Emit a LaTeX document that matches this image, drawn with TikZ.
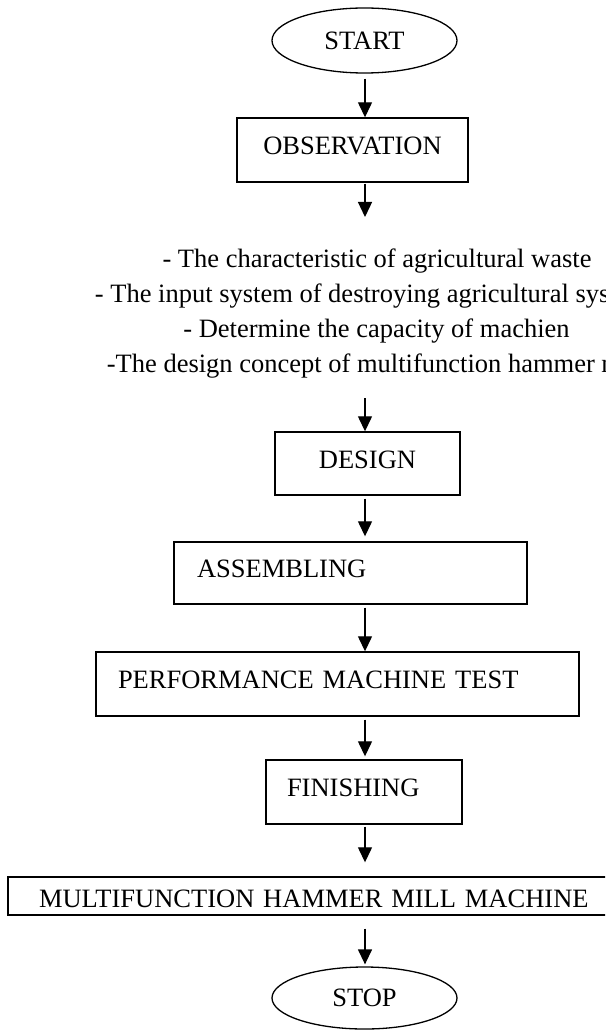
\documentclass[tikz,border=0pt]{standalone}
\usepackage{fontspec}
\setmainfont{Liberation Serif}
\usetikzlibrary{arrows.meta,shapes.geometric}
\begin{document}
\begin{tikzpicture}[x=1pt,y=1pt,
  every node/.style={font=\fontsize{26.5}{35}\selectfont},
  frame/.style={draw, line width=1.4pt, rectangle, inner ysep=0pt, text height=17.5pt, text depth=8.5pt},
  oval/.style={draw, line width=1.3pt, ellipse, inner sep=0pt, minimum width=185pt, minimum height=65pt},
  flow/.style={line width=1.3pt, -{Triangle[length=15pt,width=14pt]}},
  txtline/.style={inner sep=0pt, anchor=base}
]
\useasboundingbox (0,0) rectangle (605,-1032);
\clip (0,0) rectangle (605,-1032);
\coordinate (ax) at (365,0);
\node[oval] (start) at (364.5,-40.5) {START};
\node[frame, minimum width=231pt, minimum height=64pt, inner xsep=0pt] (obs) at (352.5,-150) {OBSERVATION};
\coordinate (o2) at (365,-217);
\node[txtline] (l1) at (377,-267) {- The characteristic of agricultural waste};
\node[txtline] (l2) at (372,-302) {- The input system of destroying agricultural system};
\node[txtline] (l3) at (376.5,-337) {- Determine the capacity of machien};
\node[txtline] (l4) at (375.5,-372) {-The design concept of multifunction hammer mill};
\coordinate (i3) at (365,-398);
\node[frame, minimum width=185pt, minimum height=63pt, inner xsep=0pt] (design) at (367.5,-463.5) {DESIGN};
\node[frame, align=left, text width=307pt, inner xsep=23pt, minimum height=62pt] (assem) at (350.5,-573) {ASSEMBLING};
\node[frame, align=left, text width=439pt, inner xsep=22pt, minimum height=64pt] (perf) at (337.5,-684) {PERFORMANCE MACHINE TEST};
\node[frame, align=left, text width=154pt, inner xsep=21pt, minimum height=64pt] (fin) at (364,-792) {FINISHING};
\node[frame, align=left, text width=590pt, inner xsep=31pt, minimum height=38pt, text height=22pt, text depth=0pt] (multi) at (334,-896) {MULTIFUNCTION HAMMER MILL MACHINE};
\node[oval, minimum height=62pt] (stop) at (364.5,-998) {STOP};
\draw[flow, shorten <=5pt] (start.south -| ax) -- (obs.north -| ax);
\draw[flow, shorten <=1pt] (obs.south -| ax) -- (o2);
\draw[flow] (i3) -- (design.north -| ax);
\draw[flow, shorten <=3pt, shorten >=5pt] (design.south -| ax) -- (assem.north -| ax);
\draw[flow, shorten <=3pt] (assem.south -| ax) -- (perf.north -| ax);
\draw[flow, shorten <=3pt, shorten >=3pt] (perf.south -| ax) -- (fin.north -| ax);
\draw[flow, shorten <=2pt, shorten >=14pt] (fin.south -| ax) -- (multi.north -| ax);
\draw[flow, shorten <=13pt, shorten >=2pt] (multi.south -| ax) -- (stop.north -| ax);
\end{tikzpicture}
\end{document}
